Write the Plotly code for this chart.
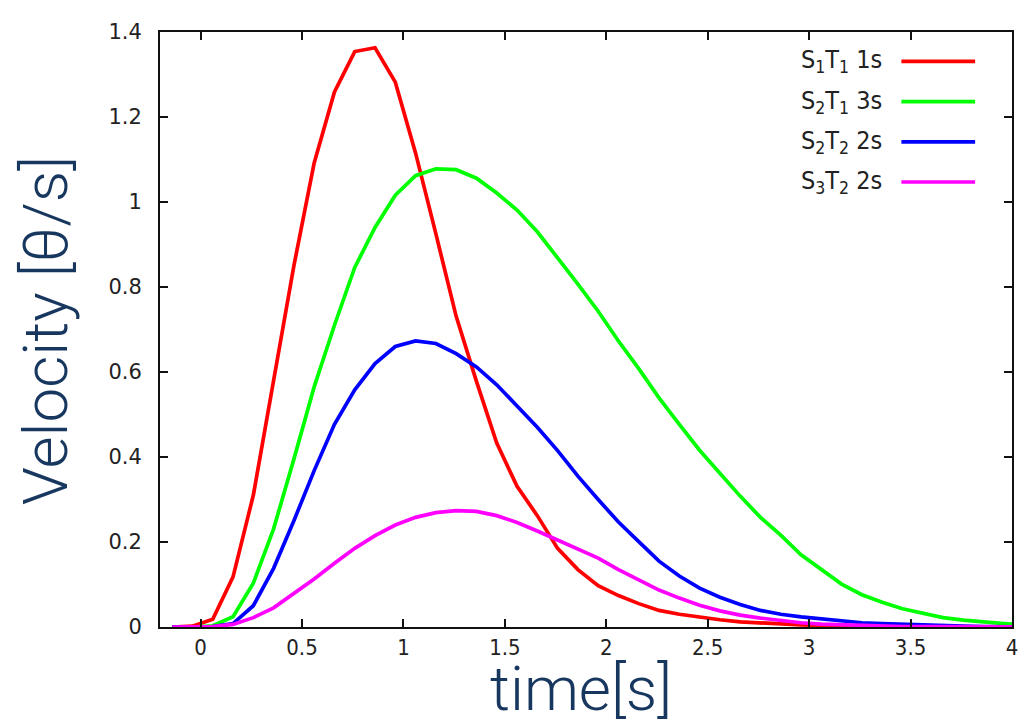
import plotly.graph_objects as go

# time samples (s)
time = [-0.14, -0.04, 0.06, 0.16, 0.26, 0.36, 0.46, 0.56, 0.66, 0.76, 0.86, 0.96,
        1.06, 1.16, 1.26, 1.36, 1.46, 1.56, 1.66, 1.76, 1.86, 1.96, 2.06, 2.16,
        2.26, 2.36, 2.46, 2.56, 2.66, 2.76, 2.86, 2.96, 3.06, 3.16, 3.26, 3.36,
        3.46, 3.56, 3.66, 3.76, 3.86, 3.96, 4.06]

s1t1_1s = [0.0, 0.002, 0.018, 0.118, 0.31, 0.575, 0.85, 1.092, 1.259, 1.354, 1.363, 1.282,
           1.115, 0.925, 0.731, 0.578, 0.433, 0.331, 0.262, 0.185, 0.135, 0.097, 0.074, 0.055,
           0.039, 0.030, 0.023, 0.017, 0.012, 0.009, 0.007, 0.005, 0.004, 0.003, 0.002, 0.002,
           0.001, 0.001, 0.001, 0.0, 0.0, 0.0, 0.0]

s2t1_3s = [0.0, 0.0, 0.003, 0.024, 0.103, 0.231, 0.395, 0.565, 0.71, 0.846, 0.94, 1.016,
           1.062, 1.078, 1.076, 1.056, 1.021, 0.981, 0.93, 0.87, 0.807, 0.743, 0.673, 0.608,
           0.539, 0.477, 0.416, 0.362, 0.308, 0.258, 0.216, 0.170, 0.135, 0.101, 0.076, 0.058,
           0.043, 0.032, 0.022, 0.016, 0.011, 0.008, 0.005]

s2t2_2s = [0.0, 0.0, 0.001, 0.008, 0.05, 0.138, 0.25, 0.368, 0.477, 0.558, 0.62, 0.66,
           0.673, 0.667, 0.643, 0.612, 0.57, 0.52, 0.47, 0.415, 0.355, 0.30, 0.247, 0.201,
           0.155, 0.12, 0.0915, 0.070, 0.053, 0.039, 0.030, 0.024, 0.019, 0.014, 0.010, 0.008,
           0.006, 0.004, 0.003, 0.002, 0.001, 0.001, 0.0]

s3t2_2s = [0.0, 0.0, 0.001, 0.006, 0.022, 0.045, 0.078, 0.113, 0.15, 0.185, 0.215, 0.24,
           0.258, 0.269, 0.274, 0.272, 0.262, 0.246, 0.226, 0.205, 0.183, 0.162, 0.135, 0.11,
           0.087, 0.068, 0.051, 0.038, 0.028, 0.021, 0.015, 0.010, 0.007, 0.005, 0.003, 0.002,
           0.001, 0.001, 0.001, 0.0, 0.0, 0.0, 0.0]

series_names = ["S<sub>1</sub>T<sub>1</sub> 1s", "S<sub>2</sub>T<sub>1</sub> 3s",
                "S<sub>2</sub>T<sub>2</sub> 2s", "S<sub>3</sub>T<sub>2</sub> 2s"]
series_values = [s1t1_1s, s2t1_3s, s2t2_2s, s3t2_2s]
colors = ["#ff0000", "#00ff00", "#0000ff", "#ff00ff"]

x_ticks = [0, 0.5, 1, 1.5, 2, 2.5, 3, 3.5, 4]
y_ticks = [0, 0.2, 0.4, 0.6, 0.8, 1, 1.2, 1.4]

fig = go.Figure()
for name, vals, c in zip(series_names, series_values, colors):
    fig.add_trace(go.Scatter(x=time, y=vals, mode="lines", name=name,
                             line=dict(color=c, width=3.7), showlegend=False))

# page body adds an 8px offset; compensate so the plot area sits where it should
OFF = 8
W, H = 1030 - OFF, 725 - OFF
ml, mr, mt, mb = 160 - OFF, 15, 20 - OFF, 98
pw, ph = W - ml - mr, H - mt - mb
px0, py0 = 160, 20  # plot area top-left in window pixels


def pxx(p):
    return (p - px0) / pw


def pxy(p):
    return 1 - (p - py0) / ph


cond = "DejaVu Sans Condensed, Liberation Sans Narrow, Roboto Condensed, Roboto, sans-serif"

# custom legend (text on left, line sample on right)
rows_y = [50, 91, 132, 173]
for name, c, ry in zip(series_names, colors, rows_y):
    fig.add_annotation(x=pxx(887), y=pxy(ry), xref="paper", yref="paper",
                       text=name, showarrow=False, xanchor="right", yanchor="middle",
                       font=dict(family=cond, size=25, color="#222222"))
    fig.add_shape(type="line", xref="paper", yref="paper",
                  x0=pxx(904), x1=pxx(978), y0=pxy(ry), y1=pxy(ry),
                  line=dict(color=c, width=3.7))

title_font = dict(family="Roboto, sans-serif", size=62, color="#17375e", weight=300)

fig.add_annotation(x=pxx(582), y=0, xref="paper", yref="paper", text="time[s]",
                   showarrow=False, xanchor="center", yanchor="top", yshift=-24,
                   borderpad=0, font=title_font)
fig.add_annotation(x=pxx(46), y=pxy(325), xref="paper", yref="paper", text="Velocity [θ/s]",
                   showarrow=False, xanchor="center", yanchor="middle", textangle=-90,
                   font=title_font)

fig.update_layout(
    width=W, height=H,
    margin=dict(l=ml, r=mr, t=mt, b=mb),
    paper_bgcolor="white", plot_bgcolor="white",
    xaxis=dict(range=[-0.2, 4], tickvals=x_ticks, ticks="inside", ticklen=8, tickwidth=1.5,
               tickcolor="#111", showline=True, linecolor="#111", linewidth=2, mirror="allticks",
               showgrid=False, zeroline=False, ticklabelstandoff=0,
               tickfont=dict(family=cond, size=22, color="#222")),
    yaxis=dict(range=[0, 1.4], tickvals=y_ticks, ticks="inside", ticklen=8, tickwidth=1.5,
               tickcolor="#111", showline=True, linecolor="#111", linewidth=2, mirror="allticks",
               showgrid=False, zeroline=False, ticklabelstandoff=12,
               tickfont=dict(family="DejaVu Sans, sans-serif", size=21, color="#222")),
)

fig.write_html("out.html")
